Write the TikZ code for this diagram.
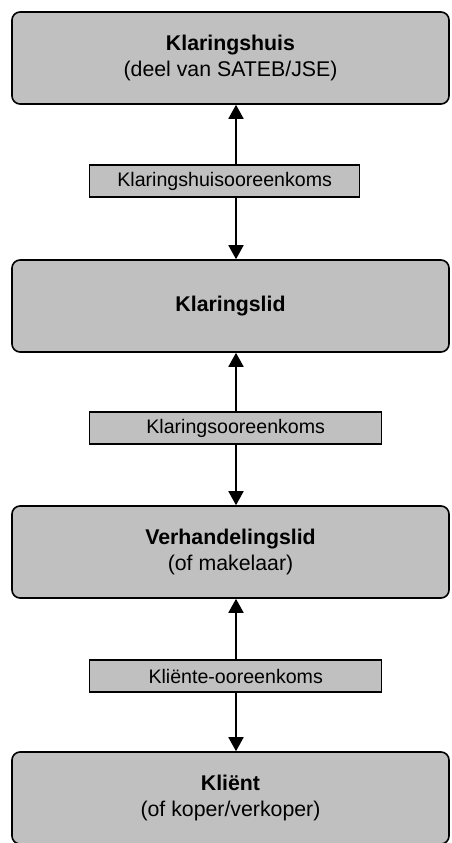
\documentclass[tikz,border=0pt]{standalone}
\usepackage{fontspec}
\setmainfont{Liberation Sans}
\usetikzlibrary{arrows.meta}
\definecolor{boxgray}{RGB}{192,192,192}
\tikzset{
    party/.style={draw=black, fill=boxgray, line width=1.6pt, rounded corners=8pt,
        minimum width=437pt, minimum height=92pt, inner sep=0pt, align=center,
        font=\fontsize{21.3}{26}\selectfont},
    deal/.style={draw=black, fill=boxgray, line width=1.4pt, anchor=west,
        minimum width=292pt, minimum height=32pt, inner sep=0pt,
        font=\fontsize{19.6}{22}\selectfont},
    link/.style={line width=1.8pt, -{Triangle[width=15pt,length=14pt]}}
}
\begin{document}
\begin{tikzpicture}[x=1pt,y=-1pt]
        \useasboundingbox (0,0) rectangle (451,843);
        \coordinate (axis) at (236,0);

        \node[party] (huis) at (230.5,58) {\textbf{Klaringshuis}\\(deel van SATEB/JSE)};
        \node[party] (lid) at (230.5,306) {\textbf{Klaringslid}};
        \node[party] (handel) at (230.5,552) {\textbf{Verhandelingslid}\\(of makelaar)};
        \node[party] (klient) at (230.5,798) {\textbf{Kliënt}\\(of koper/verkoper)};

        \node[deal, minimum width=270pt] (huisdeal) at (89,181) {Klaringshuisooreenkoms};
        \node[deal] (liddeal) at (89,428) {Klaringsooreenkoms};
        \node[deal] (klientdeal) at (89,676) {Kliënte-ooreenkoms};

        \draw[link] (huisdeal.north -| axis) -- (huis.south -| axis);
        \draw[link] (huisdeal.south -| axis) -- (lid.north -| axis);
        \draw[link] (liddeal.north -| axis) -- (lid.south -| axis);
        \draw[link] (liddeal.south -| axis) -- (handel.north -| axis);
        \draw[link] (klientdeal.north -| axis) -- (handel.south -| axis);
        \draw[link] (klientdeal.south -| axis) -- (klient.north -| axis);
    \end{tikzpicture}
\end{document}
